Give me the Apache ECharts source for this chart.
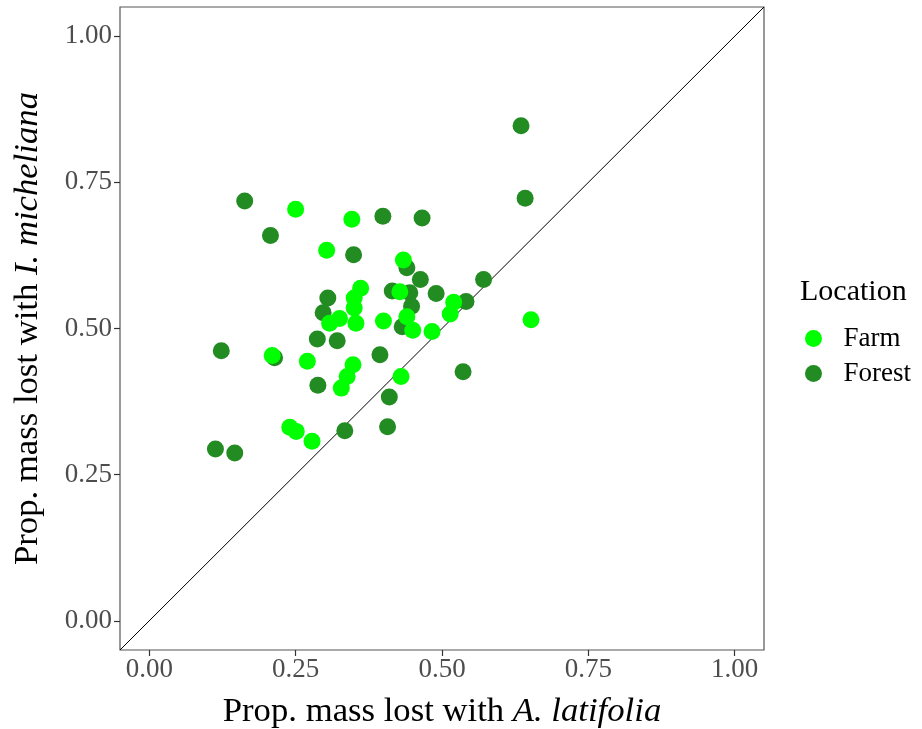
<!DOCTYPE html>
<html>
<head>
<meta charset="utf-8">
<script src="https://cdn.jsdelivr.net/npm/echarts@6/dist/echarts.min.js"></script>
<style>html,body{margin:0;padding:0;background:#fff;}#c{width:922px;height:729px;}</style>
</head>
<body>
<div id="c"></div>
<script>
// Data: [prop. mass lost with A. latifolia, prop. mass lost with I. micheliana]
var farmX = [0.250,0.346,0.303,0.434,0.361,0.350,0.350,0.325,0.308,0.353,0.400,0.428,0.520,0.514,0.440,0.450,0.483,0.652,0.210,0.270,0.348,0.338,0.328,0.430,0.240,0.251,0.278];
var farmY = [0.704,0.687,0.634,0.617,0.569,0.552,0.535,0.517,0.509,0.509,0.513,0.563,0.545,0.525,0.520,0.497,0.495,0.515,0.454,0.444,0.438,0.418,0.398,0.418,0.331,0.324,0.307];
var forestX = [0.635,0.642,0.163,0.399,0.466,0.207,0.349,0.440,0.463,0.571,0.415,0.445,0.490,0.448,0.541,0.305,0.297,0.432,0.287,0.321,0.123,0.214,0.394,0.536,0.288,0.410,0.334,0.407,0.113,0.146];
var forestY = [0.847,0.723,0.718,0.692,0.689,0.659,0.626,0.604,0.584,0.584,0.564,0.561,0.560,0.538,0.546,0.552,0.527,0.503,0.482,0.479,0.462,0.450,0.455,0.426,0.403,0.383,0.325,0.332,0.294,0.287];
var tickValues = [0, 0.25, 0.5, 0.75, 1];
var axisRange = [-0.05, 1.05];
var identityLine = [[-0.05, -0.05], [1.05, 1.05]];
var groups = ['Farm', 'Forest'];
var colors = {Farm: '#00FF00', Forest: '#228B22'};

function zip(xs, ys) { return xs.map(function (x, i) { return [x, ys[i]]; }); }

var FONT = '"Liberation Serif", "Times New Roman", serif';
var chart = echarts.init(document.getElementById('c'), null, {renderer: 'canvas'});

function axisCommon(nameText, italicText, gap, margin) {
  return {
    type: 'value',
    min: axisRange[0],
    max: axisRange[1],
    splitLine: {show: false},
    axisLine: {show: false, onZero: false},
    axisTick: {show: true, inside: false, customValues: tickValues, length: 6, lineStyle: {color: '#333', width: 1.2}},
    axisLabel: {show: true, customValues: tickValues, margin: margin, color: '#4D4D4D', fontSize: 27, fontFamily: FONT,
      formatter: function (v) { return v.toFixed(2); }},
    name: '{n|' + nameText + '}{i|' + italicText + '}',
    nameLocation: 'middle',
    nameGap: gap,
    nameTextStyle: {
      fontFamily: FONT, fontSize: 34.7, color: '#000',
      rich: {
        n: {fontFamily: FONT, fontSize: 34.7, color: '#000'},
        i: {fontFamily: FONT, fontSize: 34.7, color: '#000', fontStyle: 'italic'}
      }
    }
  };
}

var xAx = axisCommon('Prop. mass lost with ', 'A. latifolia', 44, 6);
var yAx = axisCommon('Prop. mass lost with ', 'I. micheliana', 75, 8);

chart.setOption({
  animation: false,
  backgroundColor: '#fff',
  grid: {left: 120, top: 7, width: 644, height: 643, containLabel: false, outerBoundsMode: 'none',
    show: true, borderColor: '#555', borderWidth: 1.2, backgroundColor: 'transparent'},
  xAxis: xAx,
  yAxis: yAx,
  title: {text: 'Location', left: 795, top: 272, textStyle: {fontFamily: FONT, fontSize: 30, fontWeight: 'normal', color: '#000'}},
  legend: {
    data: groups,
    orient: 'vertical',
    left: 800, top: 320,
    itemWidth: 50, itemHeight: 17, itemGap: 8,
    icon: 'circle',
    textStyle: {fontFamily: FONT, fontSize: 27, color: '#000'}
  },
  series: [
    {type: 'line', data: identityLine, symbol: 'none', silent: true, lineStyle: {color: '#000', width: 1}, z: 1},
    {name: 'Forest', type: 'scatter', data: zip(forestX, forestY), symbol: 'circle', symbolSize: 17, itemStyle: {color: colors.Forest, opacity: 1}, z: 2},
    {name: 'Farm', type: 'scatter', data: zip(farmX, farmY), symbol: 'circle', symbolSize: 17, itemStyle: {color: colors.Farm, opacity: 1}, z: 3}
  ]
});
</script>
</body>
</html>
